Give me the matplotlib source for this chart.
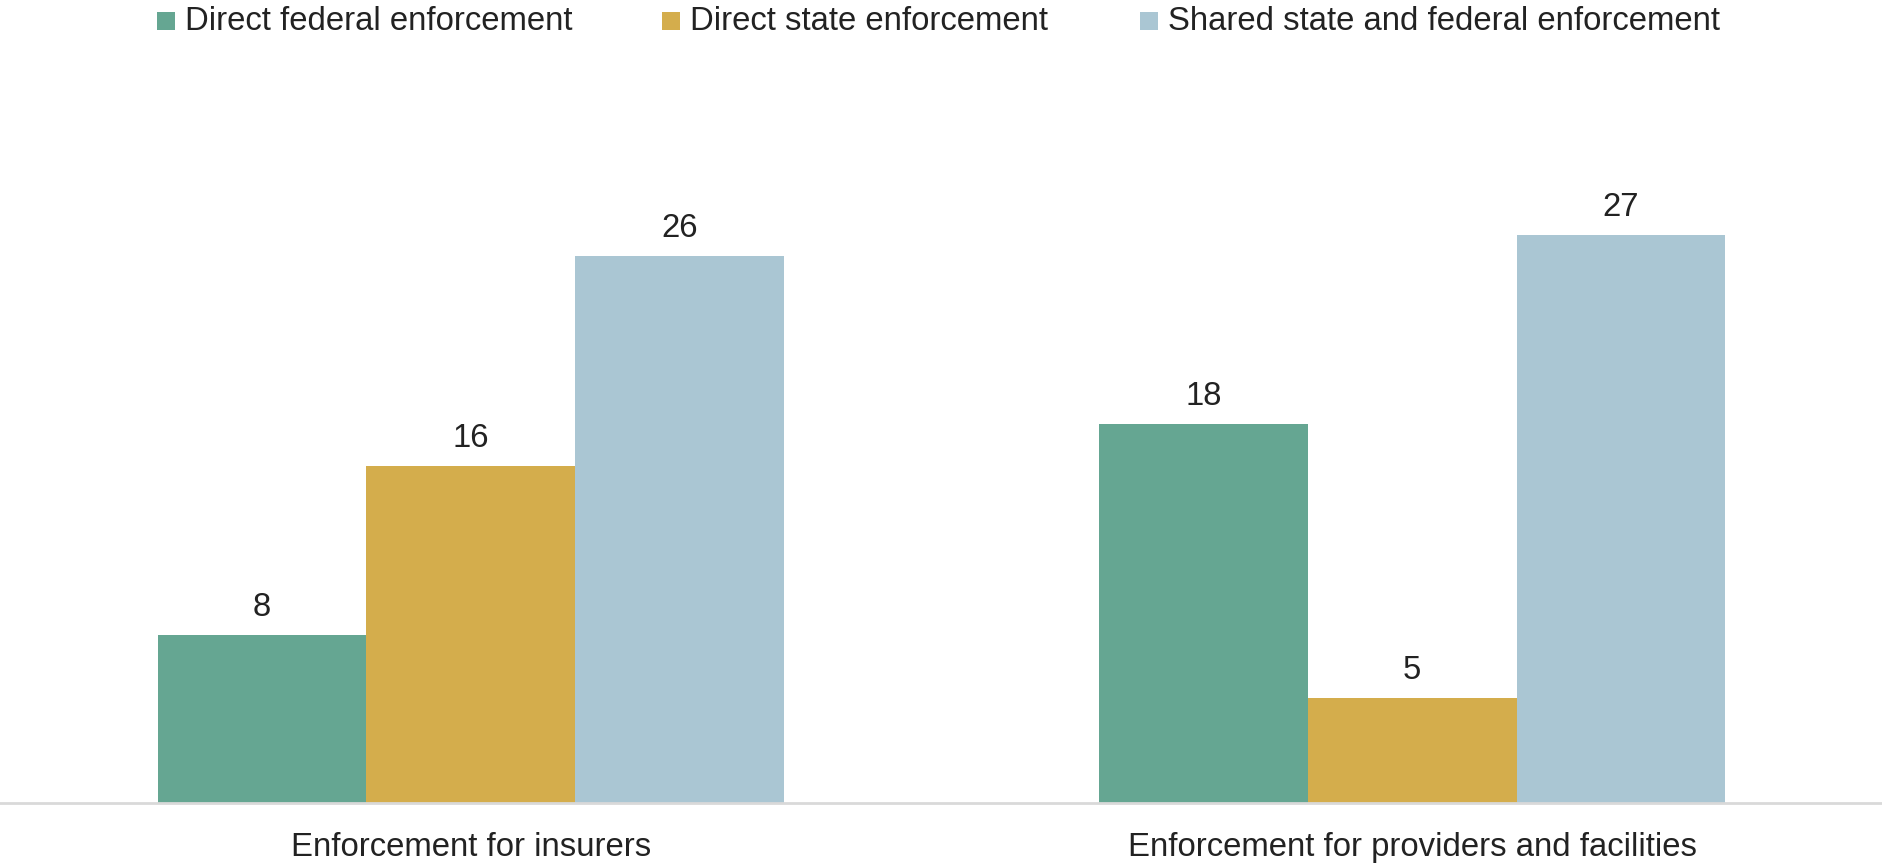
import numpy as np
import matplotlib.pyplot as plt
from matplotlib.patches import Rectangle

# Data
categories = ["Enforcement for insurers", "Enforcement for providers and facilities"]
series = ["Direct federal enforcement", "Direct state enforcement",
          "Shared state and federal enforcement"]
federal = [8, 18]
state = [16, 5]
shared = [26, 27]
colors = ["#65a692", "#d4ad4c", "#aac6d3"]

plt.rcParams['font.family'] = ['Liberation Sans', 'DejaVu Sans']

W, H = 1883, 863
fig = plt.figure(figsize=(W / 100, H / 100), dpi=100)
ax = fig.add_axes([0, 60 / H, 1, 631 / H])

x = np.arange(len(categories))
width = 0.2216
for i, (vals, c) in enumerate(zip([federal, state, shared], colors)):
    pos = x + (i - 1) * width
    bars = ax.bar(pos, vals, width=width, color=c, linewidth=0)
    for b, v in zip(bars, vals):
        ax.annotate(str(v), (b.get_x() + b.get_width() / 2, v),
                    xytext=(0, 19), textcoords='offset pixels',
                    ha='center', va='baseline', fontsize=23.7, color='#222222')

ax.set_xlim(-0.5, 1.5)
ax.set_ylim(0, 30)
ax.set_yticks([])
ax.set_xticks(x)
ax.set_xticklabels(categories, fontsize=23.7, color='#222222')
ax.tick_params(axis='x', length=0, pad=21)
for s in ['top', 'right', 'left']:
    ax.spines[s].set_visible(False)
ax.spines['bottom'].set_color('#d9d9d9')
ax.spines['bottom'].set_linewidth(2)

# Legend drawn manually at the top
patch_x = [157, 662, 1140]
for name, c, px in zip(series, colors, patch_x):
    fig.patches.append(Rectangle((px / W, 1 - 30 / H), 18 / W, 18 / H,
                                 transform=fig.transFigure, color=c,
                                 linewidth=0))
    fig.text((px + 28) / W, 1 - 21 / H, name, fontsize=23.7,
             color='#222222', va='center', ha='left')

fig.savefig("out.png", dpi=100)
